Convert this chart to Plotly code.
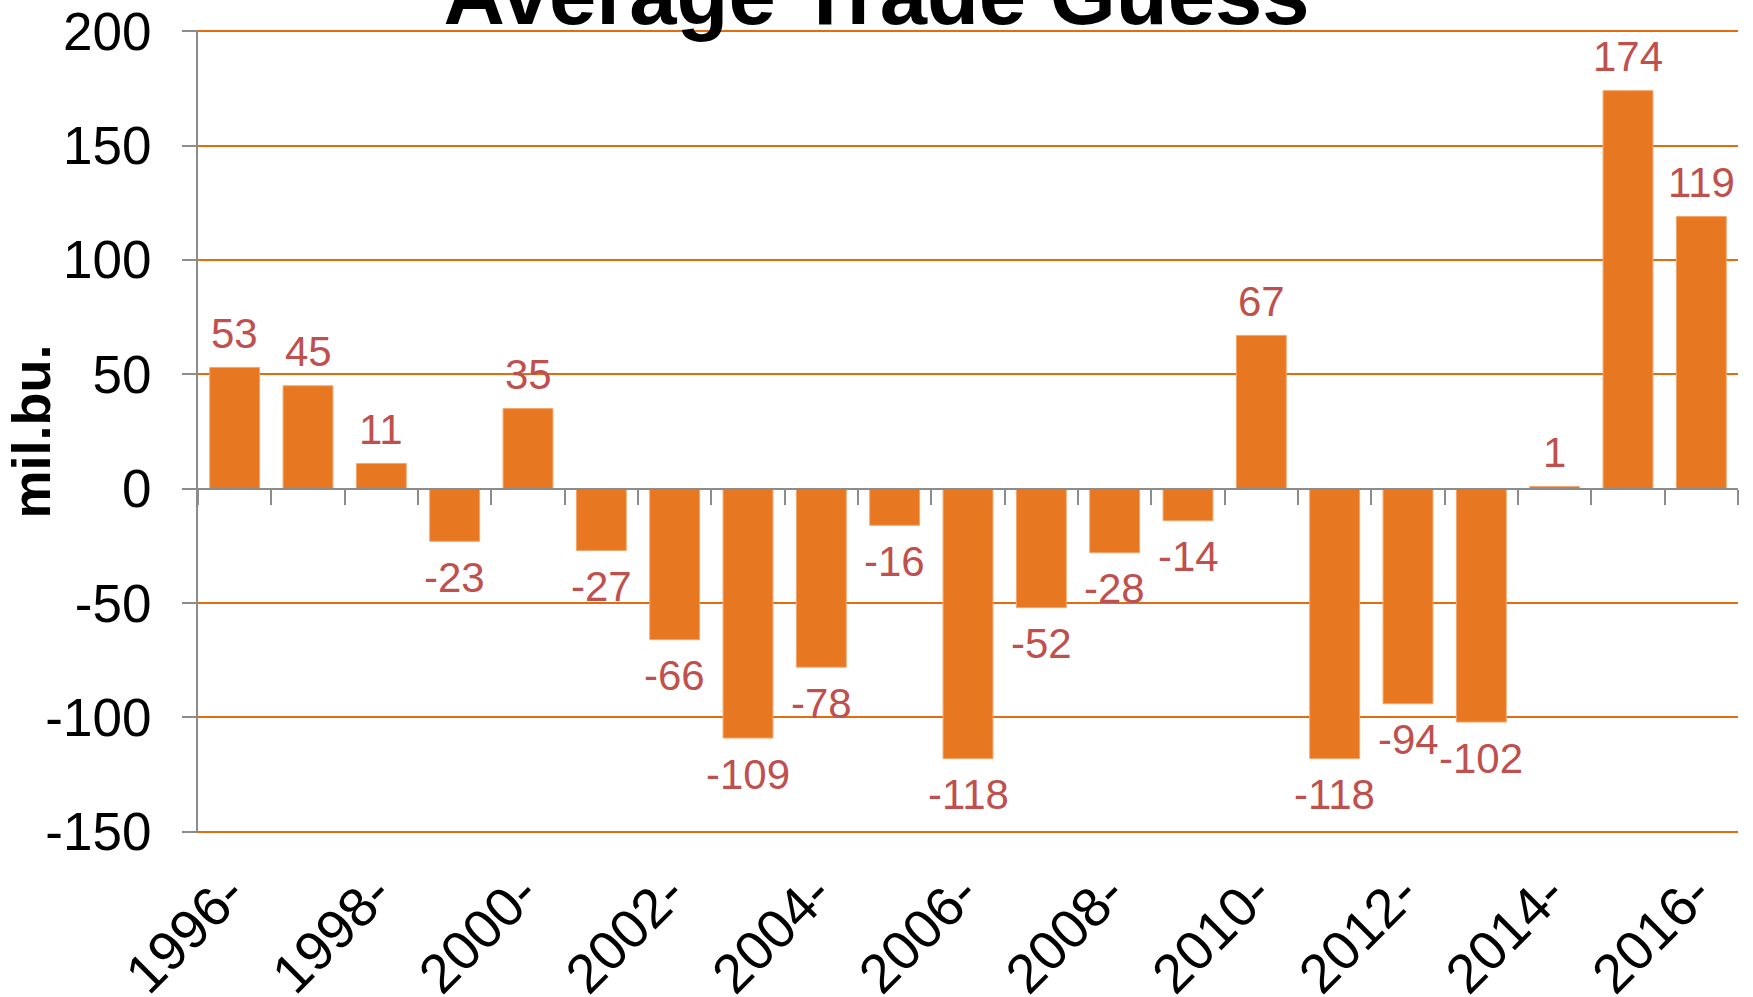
import plotly.graph_objects as go

# ---- data ----
years = list(range(1996, 2017))
categories = [f"{y}-" for y in years]
values = [53, 45, 11, -23, 35, -27, -66, -109, -78, -16, -118,
          -52, -28, -14, 67, -118, -94, -102, 1, 174, 119]
tick_labels = categories[::2]
y_ticks = [-150, -100, -50, 0, 50, 100, 150, 200]
y_tick_text = [str(v) for v in y_ticks]
title_text = "Average Trade Guess"
y_title = "mil.bu."

# ---- layout constants ----
W, H = 1753, 997
ML, MR, MT, MB = 198, 15, 30, 164
FONT = "Liberation Sans, Arial, sans-serif"
BAR = "#E87722"
GRID = "#E46C0A"
AXIS = "#8C8C8C"
LABEL = "#C0504D"

n = len(categories)
ymin, ymax = y_ticks[0], y_ticks[-1]
eps = 0.5  # keeps the edge gridlines from being clipped

fig = go.Figure()
fig.add_trace(go.Bar(
    x=categories, y=values,
    marker=dict(color=BAR, line=dict(color="#F4A66B", width=1)),
    hoverinfo="x+y",
    showlegend=False,
))
# invisible helper so the category-boundary axis at y=0 is rendered
fig.add_trace(go.Scatter(
    x=list(range(n)), y=[0] * n, xaxis="x2", yaxis="y",
    mode="markers", marker=dict(opacity=0, size=1),
    hoverinfo="skip", showlegend=False,
))

annotations = []
for c, v in zip(categories, values):
    annotations.append(dict(
        x=c, y=v, xref="x", yref="y",
        text=str(v), showarrow=False,
        yanchor="middle", xanchor="center",
        yshift=34 if v >= 0 else -36,
        font=dict(family=FONT, size=42, color=LABEL),
    ))

plot_w = W - ML - MR
annotations.append(dict(
    x=(30 - ML) / plot_w, y=0.5, xref="paper", yref="paper",
    text=f"<b>{y_title}</b>", showarrow=False, textangle=-90,
    xanchor="center", yanchor="middle",
    font=dict(family=FONT, size=54, color="black"),
))

fig.update_layout(
    width=W, height=H,
    margin=dict(l=ML, r=MR, t=MT, b=MB, pad=0, autoexpand=False),
    paper_bgcolor="white", plot_bgcolor="white",
    bargap=0.32,
    title=dict(text=f"<b>{title_text}</b>", x=0.5, xref="container", xanchor="center",
               y=1 - 24 / H, yref="container", yanchor="bottom",
               font=dict(family=FONT, size=85, color="black")),
    annotations=annotations,
    xaxis=dict(
        type="category", categoryorder="array", categoryarray=categories,
        range=[-0.5, n - 0.5], automargin=False,
        tickmode="array", tickvals=tick_labels, ticktext=tick_labels,
        tickangle=-45, ticks="", showline=False, showgrid=False, zeroline=False,
        tickfont=dict(family=FONT, size=55, color="black"),
        ticklabelstandoff=16, ticklabelshift=-6,
    ),
    xaxis2=dict(
        overlaying="x", anchor="free", position=(0 - ymin + eps) / (ymax - ymin + 2 * eps),
        type="linear", range=[-0.5, n - 0.5], automargin=False,
        tickmode="array", tickvals=[i - 0.5 for i in range(n + 1)],
        ticks="outside", ticklen=15, tickwidth=2, tickcolor=AXIS,
        showline=True, linecolor=AXIS, linewidth=2,
        showticklabels=False, showgrid=False, zeroline=False,
        layer="above traces",
    ),
    yaxis=dict(
        range=[ymin - eps, ymax + eps], tickmode="array", tickvals=y_ticks, ticktext=y_tick_text,
        showgrid=True, gridcolor=GRID, gridwidth=2, zeroline=False, automargin=False,
        showline=True, linecolor=AXIS, linewidth=2,
        ticks="outside", ticklen=14, tickwidth=2, tickcolor=AXIS,
        tickfont=dict(family=FONT, size=53, color="black"),
        ticklabelstandoff=20,
    ),
)

fig.write_html("out.html", post_script="document.body.style.margin='0';",
               config={"displayModeBar": False})
